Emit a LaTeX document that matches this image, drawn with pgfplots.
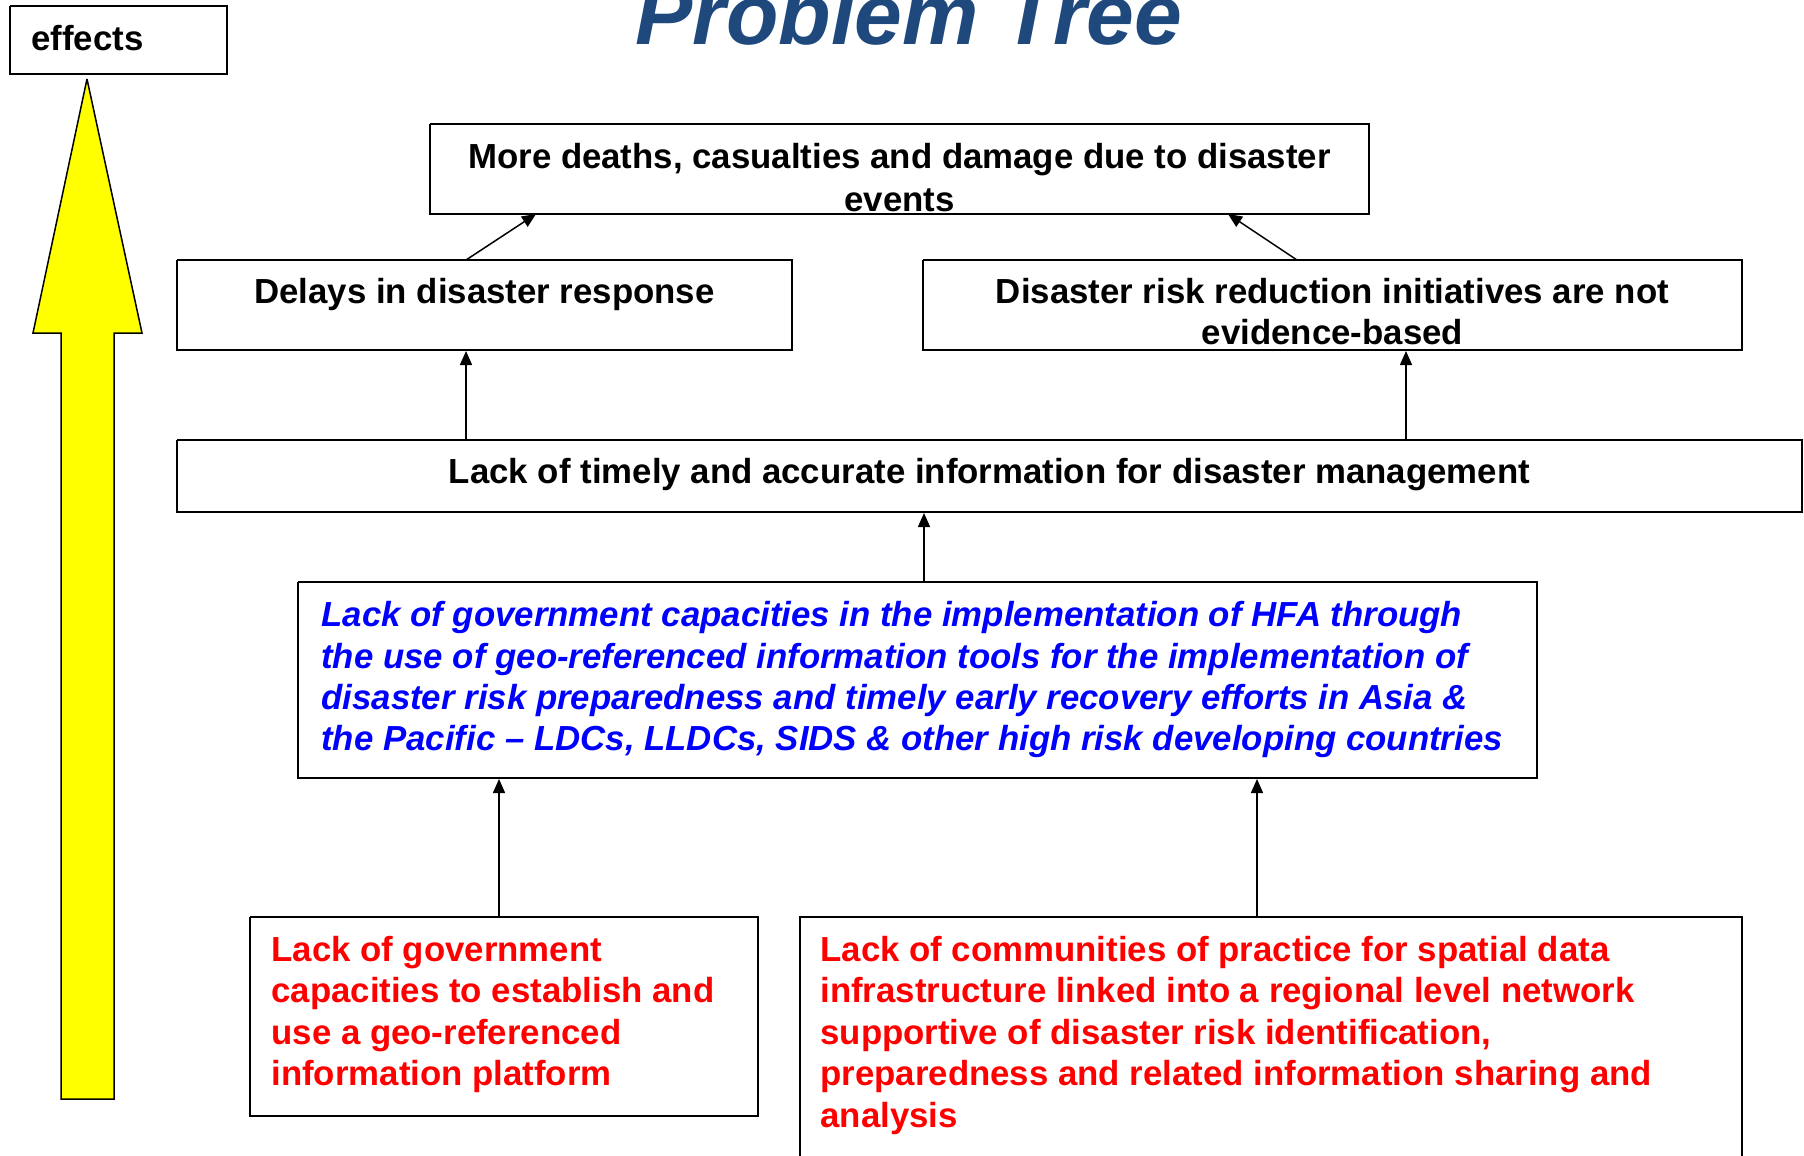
\documentclass[border=0pt]{standalone}
\usepackage{pgfplots}
\pgfplotsset{compat=1.18}
\usepackage{fontspec}
\setmainfont{Liberation Sans}
\usetikzlibrary{arrows.meta}
\definecolor{titleblue}{HTML}{1F497D}
\definecolor{redtxt}{HTML}{FF0000}
\definecolor{bluetxt}{HTML}{0000FF}
\definecolor{arrowyellow}{HTML}{FFFF00}
\newcommand{\boxfont}{\fontsize{17.4pt}{20.75pt}\selectfont\bfseries}
\begin{document}
\begin{tikzpicture}
\path[use as bounding box] (0,0) rectangle (902pt,578pt);
\begin{axis}[
  at={(0pt,0pt)}, anchor=south west,
  hide axis, scale only axis,
  width=902pt, height=578pt,
  xmin=0, xmax=1804, ymin=0, ymax=1156,
  y dir=reverse, clip=false,
]
% yellow arrow
\addplot[draw=black, line width=0.75pt, fill=arrowyellow] coordinates {(87,79) (142,333) (114,333) (114,1099) (61,1099) (61,333) (33,333) (87,79)};
% effects box
\addplot[draw=black, line width=1pt, fill=white] coordinates {(10,6) (227,6) (227,74) (10,74) (10,6)};
% boxes
\addplot[draw=black, line width=1pt, fill=white] coordinates {(430,124) (1369,124) (1369,214) (430,214) (430,124)};
\addplot[draw=black, line width=1pt, fill=white] coordinates {(177,260) (792,260) (792,350) (177,350) (177,260)};
\addplot[draw=black, line width=1pt, fill=white] coordinates {(923,260) (1742,260) (1742,350) (923,350) (923,260)};
\addplot[draw=black, line width=1pt, fill=white] coordinates {(177,440) (1802,440) (1802,512) (177,512) (177,440)};
\addplot[draw=black, line width=1pt, fill=white] coordinates {(298,582) (1537,582) (1537,778) (298,778) (298,582)};
\addplot[draw=black, line width=1pt, fill=white] coordinates {(250,917) (758,917) (758,1116) (250,1116) (250,917)};
\addplot[draw=black, line width=1pt, fill=white] coordinates {(800,1156) (800,917) (1742,917) (1742,1156)};
% connector arrows
\addplot[black, line width=0.75pt, -{Triangle[length=7pt,width=6pt]}] coordinates {(466,260) (536,214)};
\addplot[black, line width=0.75pt, -{Triangle[length=7pt,width=6pt]}] coordinates {(1297,260) (1228,214)};
\addplot[black, line width=0.75pt, -{Triangle[length=7pt,width=6pt]}] coordinates {(466,440) (466,351)};
\addplot[black, line width=0.75pt, -{Triangle[length=7pt,width=6pt]}] coordinates {(1406,440) (1406,351)};
\addplot[black, line width=0.75pt, -{Triangle[length=7pt,width=6pt]}] coordinates {(924,582) (924,513)};
\addplot[black, line width=0.75pt, -{Triangle[length=7pt,width=6pt]}] coordinates {(499,917) (499,779)};
\addplot[black, line width=0.75pt, -{Triangle[length=7pt,width=6pt]}] coordinates {(1257,917) (1257,779)};
% texts
\node[anchor=base, inner sep=0, text=titleblue, font=\fontsize{42.9pt}{50pt}\selectfont\bfseries\itshape] at (axis cs:909,45) {Problem Tree};
\node[anchor=base west, inner sep=0, font=\boxfont] at (axis cs:31,51) {effects};
\node[anchor=base, inner sep=0, font=\boxfont] at (axis cs:899.5,169) {More deaths, casualties and damage due to disaster};
\node[anchor=base, inner sep=0, font=\boxfont] at (axis cs:899.5,211) {events};
\node[anchor=base, inner sep=0, font=\boxfont] at (axis cs:484.5,303) {Delays in disaster response};
\node[anchor=base, inner sep=0, font=\boxfont] at (axis cs:1332.5,303) {Disaster risk reduction initiatives are not};
\node[anchor=base, inner sep=0, font=\boxfont] at (axis cs:1332.5,344) {evidence-based};
\node[anchor=base, inner sep=0, font=\boxfont] at (axis cs:989.5,483) {Lack of timely and accurate information for disaster management};
% blue text
\node[anchor=base west, inner sep=0, text=bluetxt, font=\boxfont\itshape] at (axis cs:321,626) {Lack of government capacities in the implementation of HFA through};
\node[anchor=base west, inner sep=0, text=bluetxt, font=\boxfont\itshape] at (axis cs:321,668) {the use of geo-referenced information tools for the implementation of};
\node[anchor=base west, inner sep=0, text=bluetxt, font=\boxfont\itshape] at (axis cs:321,709) {disaster risk preparedness and timely early recovery efforts in Asia \&};
\node[anchor=base west, inner sep=0, text=bluetxt, font=\boxfont\itshape] at (axis cs:321,750) {the Pacific – LDCs, LLDCs, SIDS \& other high risk developing countries};
% red text 1
\node[anchor=base west, inner sep=0, text=redtxt, font=\boxfont] at (axis cs:271,961) {Lack of government};
\node[anchor=base west, inner sep=0, text=redtxt, font=\boxfont] at (axis cs:271,1002) {capacities to establish and};
\node[anchor=base west, inner sep=0, text=redtxt, font=\boxfont] at (axis cs:271,1044) {use a geo-referenced};
\node[anchor=base west, inner sep=0, text=redtxt, font=\boxfont] at (axis cs:271,1085) {information platform};
% red text 2
\node[anchor=base west, inner sep=0, text=redtxt, font=\boxfont] at (axis cs:820,961) {Lack of communities of practice for spatial data};
\node[anchor=base west, inner sep=0, text=redtxt, font=\boxfont] at (axis cs:820,1002) {infrastructure linked into a regional level network};
\node[anchor=base west, inner sep=0, text=redtxt, font=\boxfont] at (axis cs:820,1044) {supportive of disaster risk identification,};
\node[anchor=base west, inner sep=0, text=redtxt, font=\boxfont] at (axis cs:820,1085) {preparedness and related information sharing and};
\node[anchor=base west, inner sep=0, text=redtxt, font=\boxfont] at (axis cs:820,1127) {analysis};
\end{axis}
\end{tikzpicture}
\end{document}
